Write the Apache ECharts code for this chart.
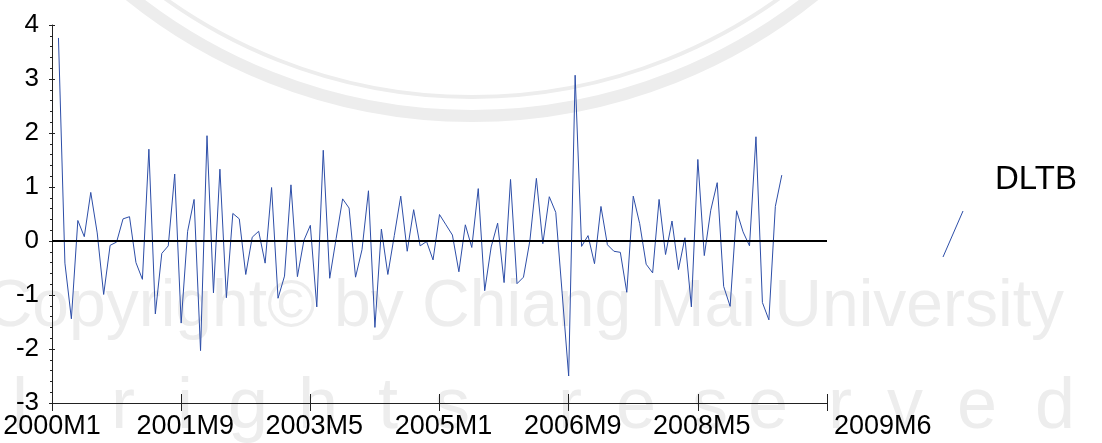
<!DOCTYPE html>
<html>
<head>
<meta charset="utf-8">
<script src="https://cdn.jsdelivr.net/npm/echarts@6/dist/echarts.min.js"></script>
<style>
  html, body { margin: 0; padding: 0; background: #ffffff; }
  #chart { width: 1102px; height: 443px; }
</style>
</head>
<body>
<div id="chart"></div>
<script>
// DLTB: monthly first difference of log series, 2000M2 .. 2009M6
const startYear = 2000;
const startMonth = 1;          // axis starts at 2000M1
const axisMonths = 121;        // 2000M1 .. 2010M1 (axis end)
const seriesName = 'DLTB';
const dltb = [
  3.76, -0.41, -1.44, 0.38, 0.08, 0.90, 0.15, -0.99, -0.08, -0.02, 0.41,
  0.45, -0.40, -0.71, 1.70, -1.35, -0.23, -0.09, 1.24, -1.52, 0.18, 0.77,
  -2.03, 1.95, -0.96, 1.33, -1.05, 0.51, 0.41, -0.62, 0.07, 0.18, -0.41,
  0.99, -1.06, -0.65, 1.04, -0.66, 0.01, 0.29, -1.22, 1.68, -0.69, 0.05,
  0.78, 0.61, -0.67, -0.16, 0.93, -1.60, 0.22, -0.62, 0.10, 0.83, -0.19,
  0.58, -0.09, -0.01, -0.35, 0.49, 0.30, 0.11, -0.57, 0.30, -0.12, 0.97,
  -0.92, -0.11, 0.33, -0.77, 1.14, -0.79, -0.67, 0.01, 1.16, -0.05, 0.82,
  0.53, -0.98, -2.50, 3.07, -0.10, 0.10, -0.42, 0.64, -0.07, -0.19, -0.21,
  -0.95, 0.83, 0.32, -0.43, -0.59, 0.77, -0.25, 0.37, -0.53, 0.06, -1.22,
  1.51, -0.27, 0.57, 1.08, -0.84, -1.21, 0.56, 0.17, -0.09, 1.93, -1.14,
  -1.46, 0.64, 1.22
];
// labels shown every 20 months; the last one sits past the axis end
const tickLabels = ['2000M1', '2001M9', '2003M5', '2005M1', '2006M9', '2008M5', '2009M6'];
const tickStep = 20;
const yMin = -3, yMax = 4, yStep = 1;

// category axis: one slot per month
const months = [];
for (let i = 0; i < axisMonths; i++) {
  const m = startMonth - 1 + i;
  months.push((startYear + Math.floor(m / 12)) + 'M' + (m % 12 + 1));
}
// first month has no difference; months after the sample stay empty
const values = months.map((_, i) => (i >= 1 && i - 1 < dltb.length) ? dltb[i - 1] : null);

const FONT = 'Liberation Sans, Arial, sans-serif';
const LINE_BLUE = '#2d4ea8';
const AXIS = '#222222';
const MARK = '#ededed';

// faint page watermark behind the plot
const wmLetters = [
  ['l', 20], ['r', 123], ['i', 185], ['g', 248], ['h', 318], ['t', 388], ['s', 452],
  ['r', 570], ['e', 636], ['s', 710], ['e', 768], ['r', 840], ['v', 905], ['e', 977], ['d', 1055]
];
const watermark = [
  { type: 'circle', silent: true, z: -10, shape: { cx: 472, cy: -430, r: 546 },
    style: { fill: 'none', stroke: MARK, lineWidth: 12 } },
  { type: 'circle', silent: true, z: -10, shape: { cx: 472, cy: -430, r: 527 },
    style: { fill: 'none', stroke: MARK, lineWidth: 4 } },
  { type: 'text', silent: true, z: -10, x: 1064, y: 308,
    style: { text: 'Copyright\u00a9 by Chiang Mai University', fill: MARK,
      font: '66px ' + FONT, align: 'right', verticalAlign: 'middle' } }
].concat(wmLetters.map(([ch, x]) => ({
  type: 'text', silent: true, z: -10, x: x, y: 408,
  style: { text: ch, fill: MARK, font: '72px ' + FONT, align: 'center', verticalAlign: 'middle' }
})));

// legend: slanted line sample with the series name
const legendGraphics = [
  { type: 'line', silent: true, shape: { x1: 943, y1: 257, x2: 963, y2: 211 },
    style: { stroke: LINE_BLUE, lineWidth: 1 } },
  { type: 'text', silent: true, x: 995, y: 180,
    style: { text: seriesName, fill: '#000', font: '33px ' + FONT, align: 'left', verticalAlign: 'middle' } }
];

const onTick = (i) => i % tickStep === 0;

const chart = echarts.init(document.getElementById('chart'), null, { renderer: 'canvas' });
chart.setOption({
  animation: false,
  backgroundColor: '#ffffff',
  grid: { left: 52, right: 275, top: 25, bottom: 40, containLabel: false },
  xAxis: [
    {
      type: 'category', data: months, boundaryGap: false, position: 'bottom',
      axisLine: { show: true, onZero: false, lineStyle: { color: AXIS, width: 1 } },
      axisTick: { show: true, interval: onTick, length: 8, lineStyle: { color: AXIS } },
      axisLabel: {
        show: true, interval: onTick, margin: 10, color: '#000',
        fontFamily: FONT, fontSize: 27, alignMaxLabel: 'left',
        formatter: function (v, i) {
          const k = Math.round(i / tickStep);
          const t = tickLabels[k];
          if (k === 0) return t;
          if (k === tickLabels.length - 1) return '{e|' + t + '}';
          return '{m|' + t + '}';
        },
        rich: {
          m: { fontFamily: FONT, fontSize: 27, color: '#000', padding: [0, 0, 0, 8] },
          e: { fontFamily: FONT, fontSize: 27, color: '#000', padding: [0, 0, 0, 7] }
        }
      },
      splitLine: { show: false }
    },
    {
      type: 'category', data: months, boundaryGap: false, position: 'bottom',
      axisLine: { show: false, onZero: false },
      axisTick: { show: true, inside: true, interval: onTick, length: 9, lineStyle: { color: AXIS } },
      axisLabel: { show: false },
      splitLine: { show: false }
    }
  ],
  yAxis: [
    {
      type: 'value', min: yMin, max: yMax, interval: yStep,
      axisLine: { show: true, onZero: false, lineStyle: { color: AXIS, width: 1 } },
      axisTick: { show: true, length: 3, lineStyle: { color: AXIS } },
      minorTick: { show: true, splitNumber: 5, length: 2, lineStyle: { color: AXIS } },
      axisLabel: { show: true, margin: 13, color: '#000', fontFamily: FONT, fontSize: 26 },
      splitLine: { show: false }
    },
    {
      type: 'value', min: yMin, max: yMax, interval: yStep, position: 'left',
      axisLine: { show: false, onZero: false },
      axisTick: { show: true, inside: true, length: 3, lineStyle: { color: AXIS } },
      minorTick: { show: false },
      axisLabel: { show: false },
      splitLine: { show: false }
    }
  ],
  series: [
    {
      name: seriesName, type: 'line', data: values,
      xAxisIndex: 0, yAxisIndex: 0,
      showSymbol: false, symbol: 'none', connectNulls: false,
      lineStyle: { color: LINE_BLUE, width: 1 },
      itemStyle: { color: LINE_BLUE },
      markLine: {
        silent: true, symbol: ['none', 'none'],
        label: { show: false },
        lineStyle: { color: '#000', width: 2, type: 'solid' },
        data: [{ yAxis: 0 }]
      },
      z: 3
    }
  ],
  graphic: watermark.concat(legendGraphics)
});
</script>
</body>
</html>
